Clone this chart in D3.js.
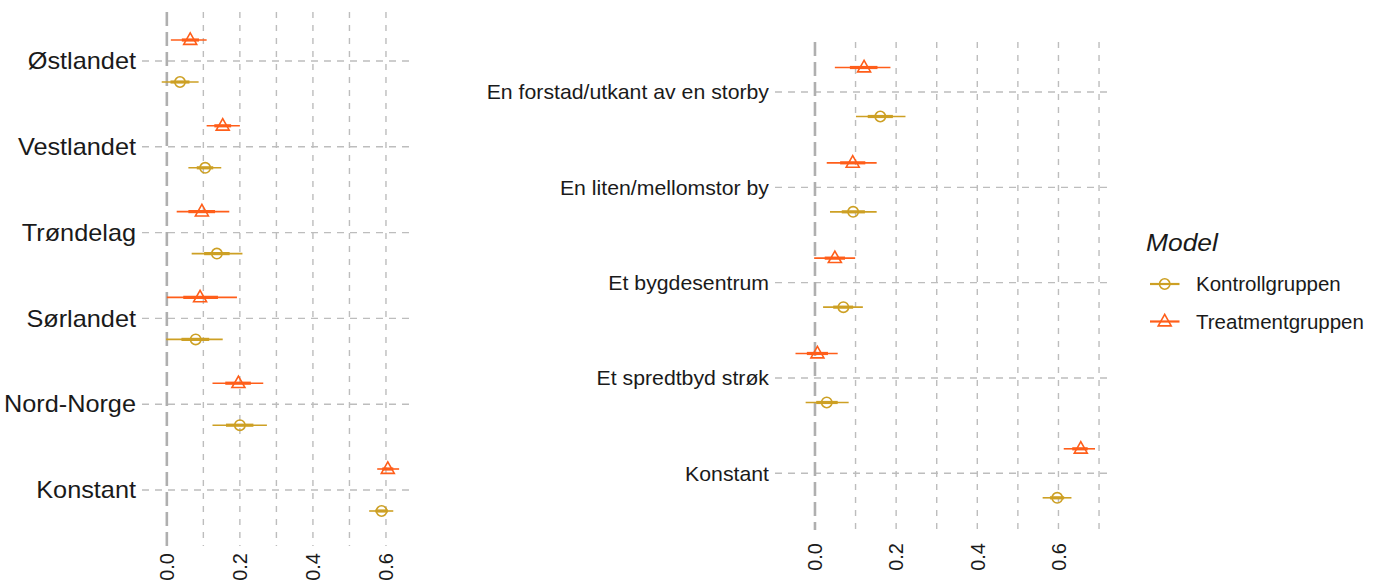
<!DOCTYPE html>
<html>
<head>
<meta charset="utf-8">
<script src="https://cdn.jsdelivr.net/npm/d3@7"></script>
<style>
  html, body { margin: 0; padding: 0; background: #fff; }
  svg { display: block; font-family: "Liberation Sans", Arial, sans-serif; }
</style>
</head>
<body>
<svg id="chart" width="1379" height="585"></svg>
<script>
// ---------- DATA ----------
const seriesNames = ["Kontrollgruppen", "Treatmentgruppen"];
const xTickValues = [0.0, 0.2, 0.4, 0.6];

// Left panel (regions)
const leftCategories = ["Østlandet", "Vestlandet", "Trøndelag", "Sørlandet", "Nord-Norge", "Konstant"];
const leftCtrlEst   = [0.036, 0.105, 0.137, 0.079, 0.200, 0.588];
const leftCtrlLo    = [-0.014, 0.059, 0.068, -0.002, 0.125, 0.554];
const leftCtrlHi    = [0.087, 0.149, 0.207, 0.153, 0.274, 0.620];
const leftCtrlInLo  = [0.010, 0.082, 0.102, 0.040, 0.162, 0.571];
const leftCtrlInHi  = [0.062, 0.127, 0.172, 0.116, 0.237, 0.605];
const leftTreatEst  = [0.064, 0.153, 0.096, 0.091, 0.196, 0.605];
const leftTreatLo   = [0.011, 0.109, 0.027, 0.000, 0.125, 0.576];
const leftTreatHi   = [0.109, 0.200, 0.171, 0.192, 0.264, 0.636];
const leftTreatInLo = [0.041, 0.130, 0.059, 0.045, 0.160, 0.590];
const leftTreatInHi = [0.088, 0.176, 0.132, 0.140, 0.230, 0.620];

// Right panel (place types)
const rightCategories = ["En forstad/utkant av en storby", "En liten/mellomstor by", "Et bygdesentrum", "Et spredtbyd strøk", "Konstant"];
const rightCtrlEst   = [0.161, 0.094, 0.070, 0.029, 0.597];
const rightCtrlLo    = [0.101, 0.037, 0.020, -0.023, 0.561];
const rightCtrlHi    = [0.223, 0.152, 0.118, 0.083, 0.632];
const rightCtrlInLo  = [0.130, 0.066, 0.045, 0.003, 0.579];
const rightCtrlInHi  = [0.192, 0.123, 0.094, 0.056, 0.614];
const rightTreatEst  = [0.121, 0.093, 0.049, 0.006, 0.655];
const rightTreatLo   = [0.049, 0.029, -0.002, -0.048, 0.613];
const rightTreatHi   = [0.186, 0.152, 0.099, 0.056, 0.690];
const rightTreatInLo = [0.086, 0.062, 0.024, -0.020, 0.634];
const rightTreatInHi = [0.154, 0.124, 0.074, 0.032, 0.672];

// ---------- STYLE ----------
const colors = { "Kontrollgruppen": "#CDA024", "Treatmentgruppen": "#FF5E1A" };
const gridColor = "#BDBDBD";
const textColor = "#1A1A1A";

const svg = d3.select("#chart");

function buildRows(cats, est, lo, hi, inLo, inHi, series) {
  return cats.map((c, i) => ({ cat: c, est: est[i], lo: lo[i], hi: hi[i], inLo: inLo[i], inHi: inHi[i], series }));
}

function drawPanel(cfg) {
  const g = svg.append("g");
  const x = d3.scaleLinear().domain(cfg.xDomain).range([cfg.left, cfg.right]);
  const y = d3.scalePoint().domain(cfg.categories).range([cfg.yFirst, cfg.yLast]);
  const dodge = cfg.dodge;

  // vertical grid (0.1 steps)
  const gridVals = d3.range(0, cfg.gridMax + 1e-9, 0.1).map(v => +v.toFixed(1));
  g.append("g").selectAll("line").data(gridVals.filter(v => v !== 0)).join("line")
    .attr("x1", d => x(d)).attr("x2", d => x(d))
    .attr("y1", cfg.top).attr("y2", cfg.bottom)
    .attr("stroke", gridColor).attr("stroke-width", 1.4)
    .attr("stroke-dasharray", "6,7");

  // horizontal grid at categories
  g.append("g").selectAll("line").data(cfg.categories).join("line")
    .attr("x1", cfg.left).attr("x2", cfg.right)
    .attr("y1", d => y(d)).attr("y2", d => y(d))
    .attr("stroke", gridColor).attr("stroke-width", 1.4)
    .attr("stroke-dasharray", "7,6");

  // zero reference line
  g.append("line")
    .attr("x1", x(0)).attr("x2", x(0))
    .attr("y1", cfg.top).attr("y2", cfg.bottom)
    .attr("stroke", "#AFAFAF").attr("stroke-width", 2.6)
    .attr("stroke-dasharray", "14,6");

  // category labels
  g.append("g").selectAll("text").data(cfg.categories).join("text")
    .attr("transform", d => `translate(${cfg.labelX},${y(d)}) scale(${cfg.labelStretch},1)`)
    .attr("dy", "0.36em")
    .attr("text-anchor", "end")
    .attr("fill", textColor)
    .attr("font-size", cfg.labelSize + "px")
    .text(d => d);

  // x tick labels (rotated)
  g.append("g").selectAll("text").data(xTickValues).join("text")
    .attr("transform", d => `translate(${x(d)},${cfg.tickTop}) rotate(-90)`)
    .attr("dy", "0.36em")
    .attr("text-anchor", "end")
    .attr("fill", textColor)
    .attr("font-size", cfg.tickSize + "px")
    .text(d => d3.format(".1f")(d));

  const rows = cfg.rows;
  const yPos = d => y(d.cat) + (d.series === "Treatmentgruppen" ? -dodge : dodge);

  const marks = g.append("g").selectAll("g").data(rows).join("g");
  marks.append("line")
    .attr("x1", d => x(d.lo)).attr("x2", d => x(d.hi))
    .attr("y1", yPos).attr("y2", yPos)
    .attr("stroke", d => colors[d.series]).attr("stroke-width", 1.6);
  marks.append("line")
    .attr("x1", d => x(d.inLo)).attr("x2", d => x(d.inHi))
    .attr("y1", yPos).attr("y2", yPos)
    .attr("stroke", d => colors[d.series]).attr("stroke-width", 3.2);
  marks.each(function(d) {
    drawShape(d3.select(this), x(d.est), yPos(d), d.series);
  });
}

function drawShape(sel, cx, cy, series) {
  const col = colors[series];
  if (series === "Kontrollgruppen") {
    sel.append("circle").attr("cx", cx).attr("cy", cy).attr("r", 5.2)
      .attr("fill", "none").attr("stroke", col).attr("stroke-width", 1.6);
  } else {
    const h = 11.5, w = 13;
    const pts = [[cx, cy - h * 0.62], [cx - w / 2, cy + h * 0.38], [cx + w / 2, cy + h * 0.38]];
    sel.append("path").attr("d", "M" + pts.map(p => p.join(",")).join("L") + "Z")
      .attr("fill", "none").attr("stroke", col).attr("stroke-width", 1.6)
      .attr("stroke-linejoin", "miter");
  }
}

// Left panel
drawPanel({
  categories: leftCategories,
  xDomain: [-0.068, 0.674], left: 142, right: 413,
  top: 12, bottom: 546, yFirst: 61, yLast: 490, dodge: 21,
  gridMax: 0.6, labelX: 136, labelSize: 23, labelStretch: 1.1, tickTop: 553, tickSize: 20,
  rows: buildRows(leftCategories, leftCtrlEst, leftCtrlLo, leftCtrlHi, leftCtrlInLo, leftCtrlInHi, "Kontrollgruppen")
    .concat(buildRows(leftCategories, leftTreatEst, leftTreatLo, leftTreatHi, leftTreatInLo, leftTreatInHi, "Treatmentgruppen"))
});

// Right panel
drawPanel({
  categories: rightCategories,
  xDomain: [-0.0985, 0.727], left: 775, right: 1110,
  top: 42, bottom: 530, yFirst: 92, yLast: 473.3, dodge: 24.5,
  gridMax: 0.7, labelX: 769, labelSize: 20.5, labelStretch: 1.037, tickTop: 543, tickSize: 20,
  rows: buildRows(rightCategories, rightCtrlEst, rightCtrlLo, rightCtrlHi, rightCtrlInLo, rightCtrlInHi, "Kontrollgruppen")
    .concat(buildRows(rightCategories, rightTreatEst, rightTreatLo, rightTreatHi, rightTreatInLo, rightTreatInHi, "Treatmentgruppen"))
});

// Legend
const legend = svg.append("g");
legend.append("text").attr("transform", "translate(1146,250.5) scale(1.1,1)")
  .attr("font-size", "24px").attr("font-style", "italic").attr("fill", textColor)
  .text("Model");
const legendY = { "Kontrollgruppen": 284, "Treatmentgruppen": 321.5 };
seriesNames.forEach(s => {
  const ly = legendY[s];
  legend.append("line").attr("x1", 1150).attr("x2", 1179.5).attr("y1", ly).attr("y2", ly)
    .attr("stroke", colors[s]).attr("stroke-width", 2.2);
  drawShape(legend.append("g"), 1164.7, ly, s);
  legend.append("text").attr("x", 1196).attr("y", ly).attr("dy", "0.36em")
    .attr("font-size", "20.5px").attr("fill", textColor).text(s);
});
</script>
</body>
</html>
